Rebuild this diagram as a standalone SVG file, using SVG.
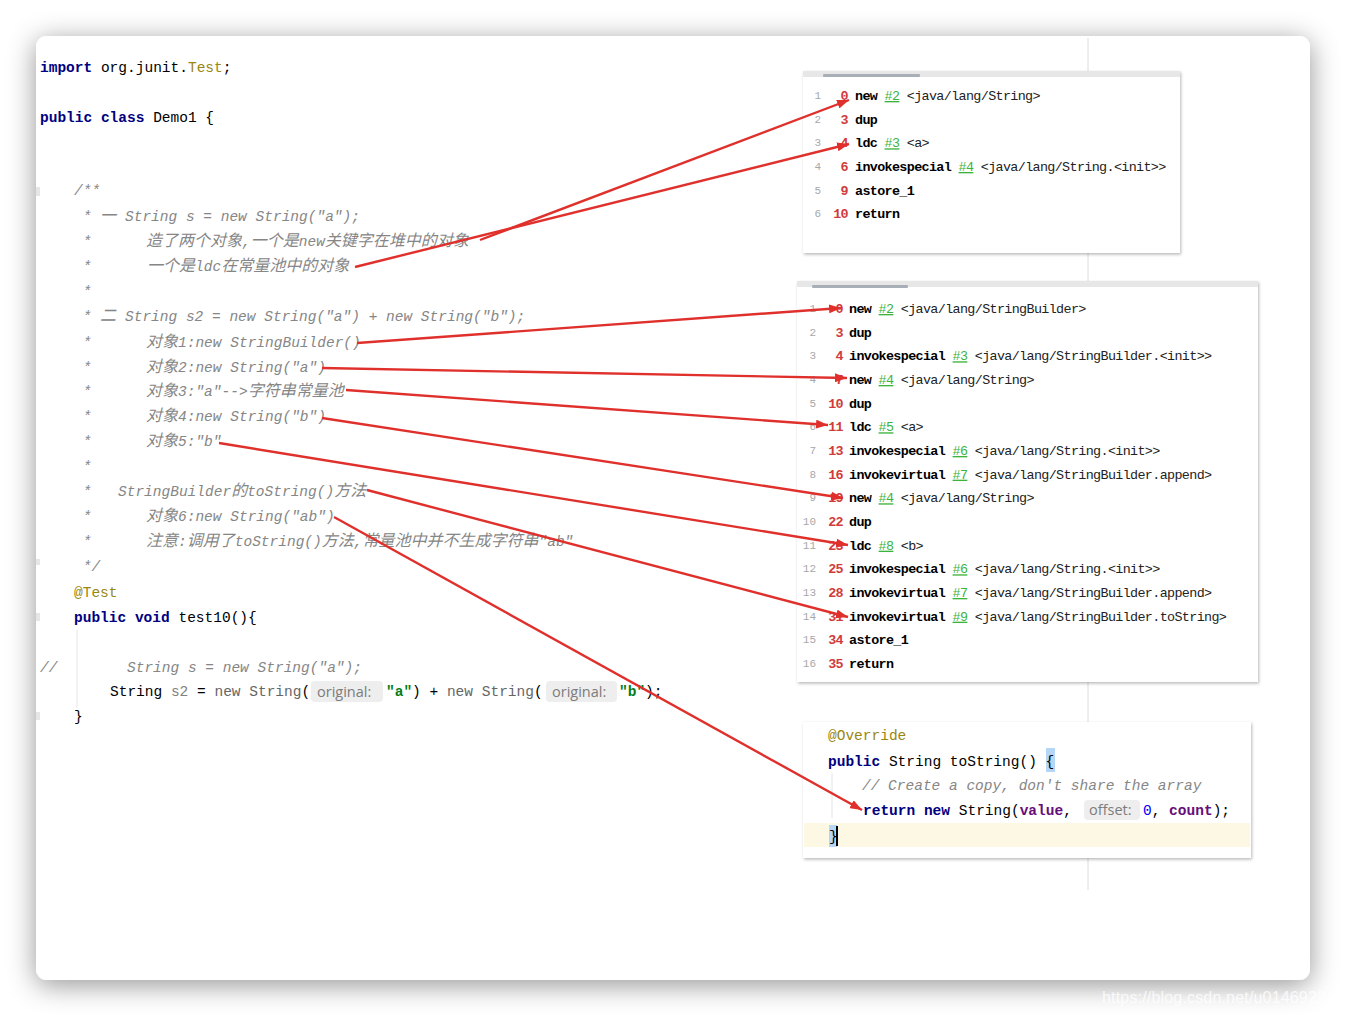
<svg xmlns="http://www.w3.org/2000/svg" width="1346" height="1016" viewBox="0 0 1346 1016">
<defs>
<style>
.code{font-family:"Liberation Mono","Noto Sans CJK SC",monospace;font-size:14.5px;fill:#000}
.kw{fill:#000080;font-weight:bold}
.ann{fill:#9a870e}
.cm{fill:#868686;font-style:italic}
.cj{font-family:"Noto Sans CJK SC",sans-serif;font-size:16px}
.str{fill:#067d17;font-weight:bold}
.gr{fill:#666}
.hintbox{fill:#eeeeee}
.hint{font-family:"Open Sans","Noto Sans",sans-serif;font-size:14.5px;fill:#7c7c7c}
.bc{font-family:"Liberation Mono",monospace;font-size:13.4px;letter-spacing:-0.64px;fill:#222}
.ln{fill:#a8a8a8;font-size:11px;letter-spacing:0}
.off{fill:#d03c3c;font-weight:bold}
.op{font-weight:bold;fill:#000}
.ref{fill:#3cb33c;text-decoration:underline}
.arr{stroke:#e0302c;stroke-width:2.4;fill:none;marker-end:url(#ah)}
.panel{fill:#fff;filter:url(#bs)}
.hdr{fill:#e7e7e7}
.thumb{fill:#a9afb7}
</style>
<filter id="cs" x="-10%" y="-10%" width="120%" height="120%">
<feDropShadow dx="0" dy="5" stdDeviation="14" flood-color="#000" flood-opacity="0.42"/>
</filter>
<filter id="bs" x="-5%" y="-5%" width="110%" height="110%">
<feDropShadow dx="1" dy="1.5" stdDeviation="1.8" flood-color="#000" flood-opacity="0.28"/>
</filter>
<marker id="ah" viewBox="0 0 12 9" refX="12" refY="4.5" markerWidth="12" markerHeight="9" markerUnits="userSpaceOnUse" orient="auto">
<path d="M0,0 L12,4.5 L0,9 z" fill="#e0302c"/>
</marker>
</defs>

<rect x="0" y="0" width="1346" height="1016" fill="#fff"/>
<g id="card">
<rect x="36" y="36" width="1274" height="944" rx="11" fill="#fff" filter="url(#cs)"/>
<line x1="1088" y1="38" x2="1088" y2="890" stroke="#dcdcdc" stroke-width="1"/>
<g fill="#e6e6e6">
<rect x="36" y="187" width="4" height="9"/>
<rect x="36" y="559" width="4" height="6"/>
<rect x="36" y="613" width="4" height="8"/>
<rect x="36" y="712" width="4" height="8"/>
</g>
<line x1="77" y1="630" x2="77" y2="708" stroke="#e6e6e6" stroke-width="1"/>
</g>

<g id="code-left" class="code">
<text x="40" y="72"><tspan class="kw">import</tspan> org.junit.<tspan class="ann">Test</tspan>;</text>
<text x="40" y="122"><tspan class="kw">public</tspan> <tspan class="kw">class</tspan> Demo1 {</text>
<text x="74" y="195" class="cm">/**</text>
<g class="cm">
<text y="221"><tspan x="82.7">*</tspan><tspan x="100" class="cj">一</tspan><tspan x="125">String s = new String("a");</tspan></text>
<text y="246"><tspan x="82.7">*</tspan><tspan x="146" class="cj">造了两个对象</tspan>,<tspan class="cj">一个是</tspan>new<tspan class="cj">关键字在堆中的对象</tspan></text>
<text y="271"><tspan x="82.7">*</tspan><tspan x="147" class="cj">一个是</tspan>ldc<tspan class="cj">在常量池中的对象</tspan></text>
<text y="296"><tspan x="82.7">*</tspan></text>
<text y="321"><tspan x="82.7">*</tspan><tspan x="100" class="cj">二</tspan><tspan x="125">String s2 = new String("a") + new String("b");</tspan></text>
<text y="347"><tspan x="82.7">*</tspan><tspan x="146" class="cj">对象</tspan>1:new StringBuilder()</text>
<text y="372"><tspan x="82.7">*</tspan><tspan x="146" class="cj">对象</tspan>2:new String("a")</text>
<text y="396"><tspan x="82.7">*</tspan><tspan x="146" class="cj">对象</tspan>3:"a"--&gt;<tspan class="cj">字符串常量池</tspan></text>
<text y="421"><tspan x="82.7">*</tspan><tspan x="146" class="cj">对象</tspan>4:new String("b")</text>
<text y="446"><tspan x="82.7">*</tspan><tspan x="146" class="cj">对象</tspan>5:"b"</text>
<text y="471"><tspan x="82.7">*</tspan></text>
<text y="496"><tspan x="82.7">*</tspan><tspan x="118">StringBuilder</tspan><tspan class="cj">的</tspan>toString()<tspan class="cj">方法</tspan></text>
<text y="521"><tspan x="82.7">*</tspan><tspan x="146" class="cj">对象</tspan>6:new String("ab")</text>
<text y="546"><tspan x="82.7">*</tspan><tspan x="146" class="cj">注意</tspan>:<tspan class="cj">调用了</tspan>toString()<tspan class="cj">方法</tspan>,<tspan class="cj">常量池中并不生成字符串</tspan>"ab"</text>
<text x="82.7" y="571">*/</text>
</g>
<text x="74" y="597" class="ann">@Test</text>
<text x="74" y="622"><tspan class="kw">public</tspan> <tspan class="kw">void</tspan> test10(){</text>
<text x="40" y="672" class="cm">//</text>
<text x="127" y="672" class="cm">String s = new String("a");</text>
<text x="110" y="696">String <tspan fill="#808080">s2</tspan> = <tspan class="gr">new String</tspan>(</text>
<rect class="hintbox" x="311" y="681" width="72" height="21" rx="4"/>
<text class="hint" x="317" y="697">original:</text>
<text x="386" y="696"><tspan class="str">"a"</tspan>) + <tspan class="gr">new String</tspan>(</text>
<rect class="hintbox" x="546" y="681" width="71" height="21" rx="4"/>
<text class="hint" x="552" y="697">original:</text>
<text x="619" y="696"><tspan class="str">"b"</tspan>);</text>
<text x="74" y="721">}</text>
</g>

<g id="bytecode-1">
<rect class="panel" x="803" y="71" width="377" height="182"/>
<rect class="hdr" x="803" y="71" width="377" height="6"/>
<rect class="thumb" x="823" y="74" width="97" height="3" rx="1"/>
<g class="bc">
<g class="ln" text-anchor="end">
<text x="821" y="99">1</text>
<text x="821" y="122.7">2</text>
<text x="821" y="146.3">3</text>
<text x="821" y="170">4</text>
<text x="821" y="193.7">5</text>
<text x="821" y="217.3">6</text>
</g>
<g class="off" text-anchor="end">
<text x="848" y="100">0</text>
<text x="848" y="123.7">3</text>
<text x="848" y="147.3">4</text>
<text x="848" y="171">6</text>
<text x="848" y="194.7">9</text>
<text x="848" y="218.3">10</text>
</g>
<text x="855" y="100"><tspan class="op">new</tspan> <tspan class="ref">#2</tspan> &lt;java/lang/String&gt;</text>
<text x="855" y="123.7"><tspan class="op">dup</tspan></text>
<text x="855" y="147.3"><tspan class="op">ldc</tspan> <tspan class="ref">#3</tspan> &lt;a&gt;</text>
<text x="855" y="171"><tspan class="op">invokespecial</tspan> <tspan class="ref">#4</tspan> &lt;java/lang/String.&lt;init&gt;&gt;</text>
<text x="855" y="194.7"><tspan class="op">astore_1</tspan></text>
<text x="855" y="218.3"><tspan class="op">return</tspan></text>
</g>
</g>

<g id="bytecode-2">
<rect class="panel" x="797" y="281" width="461" height="401"/>
<rect class="hdr" x="797" y="281" width="461" height="6"/>
<rect class="thumb" x="812" y="285" width="96" height="3" rx="1"/>
<g class="bc">
<g class="ln" text-anchor="end">
<text x="816" y="312">1</text>
<text x="816" y="335.7">2</text>
<text x="816" y="359.3">3</text>
<text x="816" y="383">4</text>
<text x="816" y="406.7">5</text>
<text x="816" y="430.3">6</text>
<text x="816" y="454">7</text>
<text x="816" y="477.7">8</text>
<text x="816" y="501.3">9</text>
<text x="816" y="525">10</text>
<text x="816" y="548.7">11</text>
<text x="816" y="572.3">12</text>
<text x="816" y="596">13</text>
<text x="816" y="619.7">14</text>
<text x="816" y="643.3">15</text>
<text x="816" y="667">16</text>
</g>
<g class="off" text-anchor="end">
<text x="843" y="313">0</text>
<text x="843" y="336.7">3</text>
<text x="843" y="360.3">4</text>
<text x="843" y="384">7</text>
<text x="843" y="407.7">10</text>
<text x="843" y="431.3">11</text>
<text x="843" y="455">13</text>
<text x="843" y="478.7">16</text>
<text x="843" y="502.3">19</text>
<text x="843" y="526">22</text>
<text x="843" y="549.7">23</text>
<text x="843" y="573.3">25</text>
<text x="843" y="597">28</text>
<text x="843" y="620.7">31</text>
<text x="843" y="644.3">34</text>
<text x="843" y="668">35</text>
</g>
<text x="849" y="313"><tspan class="op">new</tspan> <tspan class="ref">#2</tspan> &lt;java/lang/StringBuilder&gt;</text>
<text x="849" y="336.7"><tspan class="op">dup</tspan></text>
<text x="849" y="360.3"><tspan class="op">invokespecial</tspan> <tspan class="ref">#3</tspan> &lt;java/lang/StringBuilder.&lt;init&gt;&gt;</text>
<text x="849" y="384"><tspan class="op">new</tspan> <tspan class="ref">#4</tspan> &lt;java/lang/String&gt;</text>
<text x="849" y="407.7"><tspan class="op">dup</tspan></text>
<text x="849" y="431.3"><tspan class="op">ldc</tspan> <tspan class="ref">#5</tspan> &lt;a&gt;</text>
<text x="849" y="455"><tspan class="op">invokespecial</tspan> <tspan class="ref">#6</tspan> &lt;java/lang/String.&lt;init&gt;&gt;</text>
<text x="849" y="478.7"><tspan class="op">invokevirtual</tspan> <tspan class="ref">#7</tspan> &lt;java/lang/StringBuilder.append&gt;</text>
<text x="849" y="502.3"><tspan class="op">new</tspan> <tspan class="ref">#4</tspan> &lt;java/lang/String&gt;</text>
<text x="849" y="526"><tspan class="op">dup</tspan></text>
<text x="849" y="549.7"><tspan class="op">ldc</tspan> <tspan class="ref">#8</tspan> &lt;b&gt;</text>
<text x="849" y="573.3"><tspan class="op">invokespecial</tspan> <tspan class="ref">#6</tspan> &lt;java/lang/String.&lt;init&gt;&gt;</text>
<text x="849" y="597"><tspan class="op">invokevirtual</tspan> <tspan class="ref">#7</tspan> &lt;java/lang/StringBuilder.append&gt;</text>
<text x="849" y="620.7"><tspan class="op">invokevirtual</tspan> <tspan class="ref">#9</tspan> &lt;java/lang/StringBuilder.toString&gt;</text>
<text x="849" y="644.3"><tspan class="op">astore_1</tspan></text>
<text x="849" y="668"><tspan class="op">return</tspan></text>
</g>
</g>

<g id="tostring-source">
<rect class="panel" x="803" y="722" width="448" height="136"/>
<rect x="804" y="823" width="446" height="24" fill="#fdf8e4"/>
<line x1="832" y1="773" x2="832" y2="818" stroke="#e4e4e4" stroke-width="1"/>
<rect x="1046" y="748" width="9" height="24" fill="#b6d6f6"/>
<rect x="829" y="825" width="8" height="22" fill="#b6d6f6"/>
<g class="code">
<text x="828" y="740" class="ann">@Override</text>
<text x="828" y="766"><tspan class="kw">public</tspan> String toString() {</text>
<text x="862" y="790" class="cm">// Create a copy, don't share the array</text>
<text x="863" y="815"><tspan class="kw">return</tspan> <tspan class="kw">new</tspan> String(<tspan fill="#660e7a" font-weight="bold">value</tspan>,</text>
<rect class="hintbox" x="1084" y="800" width="56" height="20" rx="4"/>
<text class="hint" x="1089" y="815">offset:</text>
<text x="1143" y="815"><tspan fill="#0000ff">0</tspan>, <tspan fill="#660e7a" font-weight="bold">count</tspan>);</text>
<text x="829" y="841">}</text>
</g>
<rect x="836" y="826" width="2" height="20" fill="#000"/>
</g>

<g id="connectors">
<path class="arr" d="M480,240 L849,100"/>
<path class="arr" d="M355,267 L849,144"/>
<path class="arr" d="M357,343 L841,308"/>
<path class="arr" d="M322,368 L847,378"/>
<path class="arr" d="M346,390 L828,425"/>
<path class="arr" d="M322,418 L843,498"/>
<path class="arr" d="M219,443 L848,545"/>
<path class="arr" d="M367,490 L848,617"/>
<path class="arr" d="M334,517 L862,810"/>
</g>

<text x="1102" y="1003" font-family="Liberation Sans, Arial, sans-serif" font-size="16" fill="#ffffff" fill-opacity="0.8" textLength="233">https://blog.csdn.net/u01469222</text>
</svg>
